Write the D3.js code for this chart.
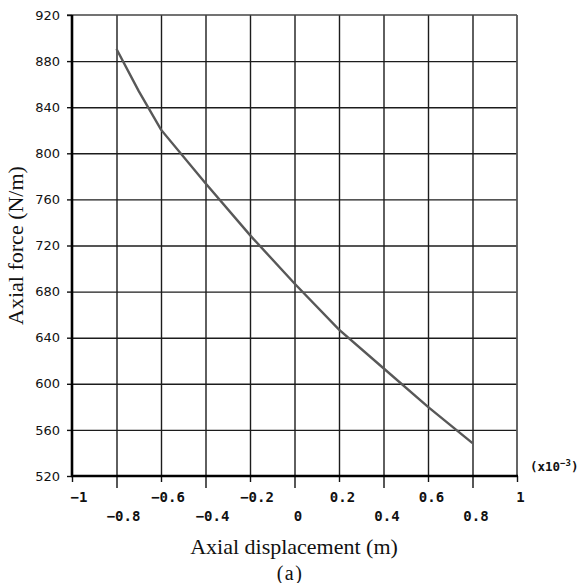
<!DOCTYPE html>
<html><head><meta charset="utf-8">
<script src="https://cdn.jsdelivr.net/npm/d3@7"></script>
<style>body{margin:0;background:#fff}svg{display:block}</style>
</head><body>
<script>
const dispX = [-0.8, -0.7, -0.6, -0.4, -0.2, 0, 0.2, 0.4, 0.6, 0.8];
const forceY = [890.5, 854, 820.5, 774, 729, 687, 647, 613.5, 580, 548.5];
const xTicksUpper = [-1, -0.6, -0.2, 0.2, 0.6, 1];
const xTicksLower = [-0.8, -0.4, 0, 0.4, 0.8];
const xGrid = [-0.8, -0.6, -0.4, -0.2, 0, 0.2, 0.4, 0.6, 0.8];
const yTicks = [520, 560, 600, 640, 680, 720, 760, 800, 840, 880, 920];
const yGrid = [560, 600, 640, 680, 720, 760, 800, 840, 880];

const W = 586, H = 583;
const L = 72, R = 517, T = 15, B = 476;
const svg = d3.select("body").append("svg").attr("width", W).attr("height", H);
const x = d3.scaleLinear().domain([-1, 1]).range([L, R]);
const y = d3.scaleLinear().domain([520, 920]).range([B, T]);

// grid
const gx = svg.append("g").attr("transform", `translate(0,${B})`)
  .call(d3.axisBottom(x).tickValues(xGrid).tickSize(-(B - T)).tickFormat(""));
gx.select(".domain").remove();
gx.selectAll("line").attr("stroke", "#1c1c1c").attr("stroke-width", 1.4);
const gy = svg.append("g").attr("transform", `translate(${L},0)`)
  .call(d3.axisLeft(y).tickValues(yGrid).tickSize(-(R - L)).tickFormat(""));
gy.select(".domain").remove();
gy.selectAll("line").attr("stroke", "#1c1c1c").attr("stroke-width", 1.4);

// top and right border
svg.append("line").attr("x1", L - 5).attr("x2", R).attr("y1", y(920)).attr("y2", y(920))
  .attr("stroke", "#444").attr("stroke-width", 1.6);
svg.append("line").attr("x1", x(1)).attr("x2", x(1)).attr("y1", T).attr("y2", B)
  .attr("stroke", "#555").attr("stroke-width", 1.8);

const fmt = d => (d < 0 ? "\u2212" : "") + String(Math.abs(d));
function styleX(g) {
  g.select(".domain").remove();
  g.selectAll("line").attr("stroke", "#111").attr("stroke-width", 1.4);
  g.selectAll("text")
    .attr("font-family", "'DejaVu Sans Mono', monospace")
    .attr("font-weight", "bold").attr("font-size", 14).attr("fill", "#111")
    .attr("dx", d => d < 0 ? 6.5 : 3);
}
const ax1 = svg.append("g").attr("transform", `translate(0,${B})`)
  .call(d3.axisBottom(x).tickValues(xTicksUpper).tickSize(6).tickPadding(13).tickFormat(fmt));
styleX(ax1);
const ax2 = svg.append("g").attr("transform", `translate(0,${B})`)
  .call(d3.axisBottom(x).tickValues(xTicksLower).tickSize(12).tickPadding(25).tickFormat(fmt));
styleX(ax2);
ax2.selectAll("text").attr("y", 35);
ax1.selectAll("text").attr("y", 16);

const ay = svg.append("g").attr("transform", `translate(${L},0)`)
  .call(d3.axisLeft(y).tickValues(yTicks).tickSize(5).tickPadding(7));
ay.select(".domain").remove();
ay.selectAll("line").attr("stroke", "#111").attr("stroke-width", 1.4);
ay.selectAll("text").attr("font-family", "'DejaVu Sans', sans-serif")
  .attr("font-size", 13).attr("fill", "#111");

// main axes (thick)
svg.append("line").attr("x1", L).attr("x2", L).attr("y1", T).attr("y2", B + 1)
  .attr("stroke", "#000").attr("stroke-width", 2.6);
svg.append("line").attr("x1", L - 1).attr("x2", R + 1).attr("y1", B).attr("y2", B)
  .attr("stroke", "#000").attr("stroke-width", 2.6);

// data line
const data = dispX.map((d, i) => [d, forceY[i]]);
svg.append("path").datum(data)
  .attr("d", d3.line().x(d => x(d[0])).y(d => y(d[1])))
  .attr("fill", "none").attr("stroke", "#585858").attr("stroke-width", 2.4);

// multiplier label
const mt = svg.append("text").attr("x", 530).attr("y", 471)
  .attr("font-family", "'DejaVu Sans Mono', monospace").attr("font-weight", "bold")
  .attr("font-size", 12.5).attr("fill", "#111");
mt.append("tspan").text("(x10");
mt.append("tspan").attr("dy", -5).attr("font-size", 9).text("\u22123");
mt.append("tspan").attr("dy", 5).text(")");

// titles
svg.append("text").attr("x", 294).attr("y", 554).attr("text-anchor", "middle")
  .attr("font-family", "'Liberation Serif', serif").attr("font-size", 22).attr("fill", "#111")
  .text("Axial displacement (m)");
svg.append("text").attr("x", 290).attr("y", 580).attr("text-anchor", "middle")
  .attr("font-family", "'Liberation Serif', serif").attr("font-size", 20).attr("fill", "#111")
  .attr("letter-spacing", 1.5)
  .text("(a)");
svg.append("text").attr("transform", `translate(23,${(T + B) / 2}) rotate(-90)`)
  .attr("text-anchor", "middle")
  .attr("font-family", "'Liberation Serif', serif").attr("font-size", 22).attr("fill", "#111")
  .text("Axial force (N/m)");
</script>
</body></html>
